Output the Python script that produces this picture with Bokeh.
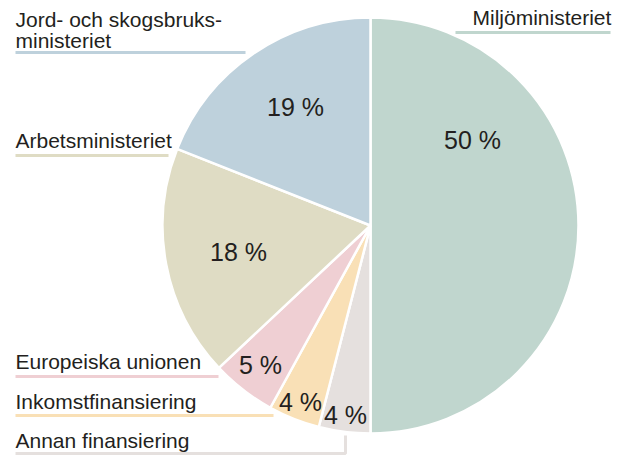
import math
from bokeh.plotting import figure
from bokeh.models import Range1d, ColumnDataSource
from bokeh.core.properties import value
from bokeh.embed import file_html
from bokeh.resources import INLINE

# ---- data (clockwise from 12 o'clock) ----
categories = ["Miljöministeriet", "Annan finansiering", "Inkomstfinansiering",
              "Europeiska unionen", "Arbetsministeriet", "Jord- och skogsbruksministeriet"]
shares = [50, 4, 4, 5, 18, 19]
pct_labels = ["50 %", "4 %", "4 %", "5 %", "18 %", "19 %"]
cat_texts = [["Miljöministeriet"], ["Annan finansiering"], ["Inkomstfinansiering"],
             ["Europeiska unionen"], ["Arbetsministeriet"], ["Jord- och skogsbruks-", "ministeriet"]]

# ---- styles / layout ----
colors = ["#c0d6ce", "#e5e0de", "#f9e0b6", "#efcfd3", "#dfdcc4", "#bed1dc"]
W, H = 622, 455
CX, CY, R = 370, 225, 208          # pixel coords (y down)
TXT = "#231f20"
FONT = "Liberation Sans"

def Y(py):
    return H - py

# percent label anchors (center x, vertical middle y) in pixels
pct_pos = [(472, 139), (345, 414), (300, 401), (260, 364), (238, 251), (295, 106)]
# category label: (x, [middle ys])
cat_pos = [(472, [17]), (15, [440]), (15, [401]), (15, [361]), (15, [140]), (15, [19, 40])]
# leader lines in pixels
leaders = [([455, 610], [32, 32]),
           ([15, 345, 345], [453, 453, 435]),
           ([15, 273], [415, 415]),
           ([15, 218], [376, 376]),
           ([15, 168], [155, 155]),
           ([15, 245], [52, 52])]

p = figure(width=W, height=H, output_backend="svg", toolbar_location=None,
           x_range=Range1d(0, W), y_range=Range1d(0, H), min_border=0)
p.axis.visible = False
p.grid.visible = False
p.outline_line_color = None
p.background_fill_color = "white"
p.border_fill_color = "white"

total = sum(shares)
starts, ends = [], []
cum = 0
for s in shares:
    starts.append(math.pi / 2 - 2 * math.pi * cum / total)
    cum += s
    ends.append(math.pi / 2 - 2 * math.pi * cum / total)

src = ColumnDataSource(dict(start=starts, end=ends, color=colors, cat=categories))
p.wedge(x=CX, y=Y(CY), radius=R, start_angle="start", end_angle="end",
        direction="clock", fill_color="color", line_color="white",
        line_width=2.5, source=src)

# leader lines
for (xs, ys), c in zip(leaders, colors):
    p.line(xs, [Y(v) for v in ys], line_color=c, line_width=3)

# percent labels
p.text(x=[q[0] for q in pct_pos], y=[Y(q[1]) for q in pct_pos], text=pct_labels,
       text_font=value(FONT), text_font_size="25px", text_color=TXT,
       text_align="center", text_baseline="middle")

# category labels
for (x, ms), lines in zip(cat_pos, cat_texts):
    p.text(x=[x] * len(lines), y=[Y(m) for m in ms], text=lines,
           text_font=value(FONT), text_font_size="21px", text_color=TXT,
           text_align="left", text_baseline="middle")

open("out.html", "w").write(file_html(p, INLINE))
